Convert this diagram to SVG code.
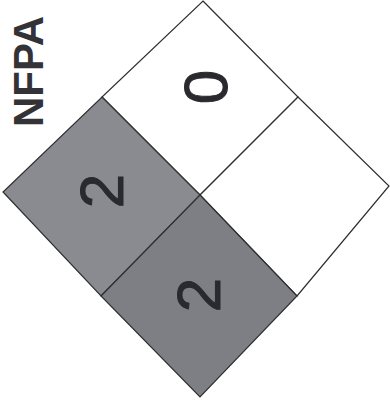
<svg xmlns="http://www.w3.org/2000/svg" width="390" height="404" viewBox="0 0 390 404">
<style>
.q{stroke:#2e2e2e;stroke-width:1.2;stroke-linejoin:miter}
.num{font-family:"Liberation Sans",Arial,sans-serif;font-size:62px;fill:#2a2a2e;stroke:#2a2a2e;stroke-width:1;text-anchor:middle}
.title{font-family:"Liberation Sans",Arial,sans-serif;font-weight:bold;font-size:42px;fill:#333337;text-anchor:middle}
</style>
<rect width="390" height="404" fill="#ffffff"/>
<g id="title"><text class="title" transform="translate(43,71.5) rotate(-90)">NFPA</text></g>
<g id="top">
<polygon class="q" points="203,1 298,97 200,195 102,97" fill="#ffffff"/>
<text class="num" transform="translate(227,87) rotate(-90)">0</text>
</g>
<g id="right">
<polygon class="q" points="298,97 389,186 297,296 200,195" fill="#ffffff"/>
</g>
<g id="left">
<polygon class="q" points="102,97 200,195 101,296 3,192" fill="#8a8b90"/>
<text class="num" transform="translate(123,191) rotate(-90)">2</text>
</g>
<g id="bottom">
<polygon class="q" points="200,195 297,296 200,397 101,296" fill="#7e7f84"/>
<text class="num" transform="translate(220,295) rotate(-90)">2</text>
</g>
</svg>
